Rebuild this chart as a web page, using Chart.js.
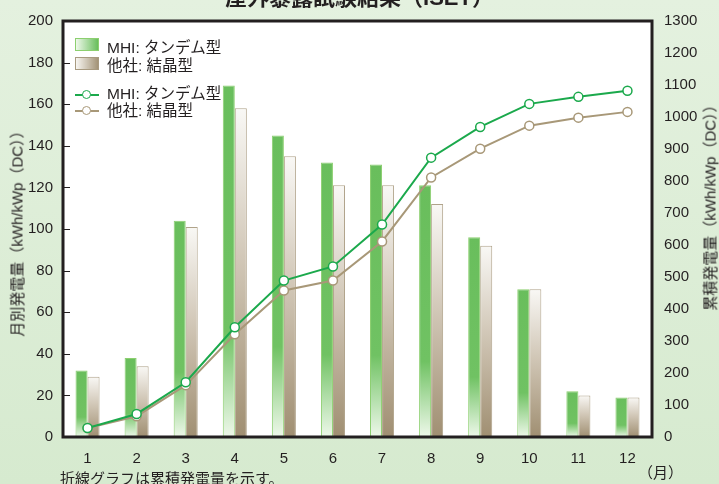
<!DOCTYPE html>
<html>
<head>
<meta charset="utf-8">
<script src="https://cdn.jsdelivr.net/npm/chart.js@4"></script>
<style>
  html, body { margin: 0; padding: 0; }
  body { width: 719px; height: 484px; overflow: hidden; position: relative;
         background: linear-gradient(#e4f1df, #d6eacf); font-family: "Liberation Sans", "Noto Sans CJK JP", sans-serif; color: #231f20; }
  #chart { position: absolute; left: 0; top: 0; }
  .txt { position: absolute; white-space: nowrap; font-family: "Liberation Sans", "Noto Sans CJK JP", sans-serif; }
  #title { left: 0; width: 719px; text-align: center; top: -21px; font-size: 22px; font-weight: bold; }
  .vtitle { font-size: 15px; transform: translate(-50%, -50%) rotate(-90deg); }
  #leftTitle { left: 16px; top: 230px; }
  #rightTitle { left: 709px; top: 204px; }
  #note { left: 60px; top: 467px; font-size: 15px; }
  #unit { left: 638px; top: 461px; font-size: 15px; }
  .leg { position: absolute; font-size: 15.5px; white-space: nowrap; }
  .box { position: absolute; width: 22px; height: 11px; }
  #box1 { left: 75px; top: 38px; background: linear-gradient(to right, #eef8ea, #69be5c); border: 1px solid #8ccf6f; }
  #box2 { left: 75px; top: 57px; background: linear-gradient(to right, #f8f6f2, #a39377); border: 1px solid #a89a80; }
  .lsym { position: absolute; width: 24px; height: 10px; }
  .lsym .ln { position: absolute; left: 0; right: 0; top: 4px; height: 2px; }
  .lsym .pt { position: absolute; left: 7px; top: 0; width: 7px; height: 7px; border-radius: 50%; background: #fff; }
</style>
</head>
<body>
<canvas id="chart" width="719" height="484"></canvas>
<div class="txt" id="title">屋外暴露試験結果（ISET）</div>
<div class="txt vtitle" id="leftTitle">月別発電量（kWh/kWp（DC））</div>
<div class="txt vtitle" id="rightTitle">累積発電量（kWh/kWp（DC））</div>
<div class="txt" id="note">折線グラフは累積発電量を示す。</div>
<div class="txt" id="unit">（月）</div>

<div class="box" id="box1"></div>
<div class="leg" style="left:107px; top:35px;">MHI: タンデム型</div>
<div class="box" id="box2"></div>
<div class="leg" style="left:107px; top:53px;">他社: 結晶型</div>

<div class="lsym" style="left:75px; top:90px;"><div class="ln" style="background:#1ba94c"></div><div class="pt" style="border:1.5px solid #1ba94c"></div></div>
<div class="leg" style="left:107px; top:81px;">MHI: タンデム型</div>
<div class="lsym" style="left:75px; top:106px;"><div class="ln" style="background:#a89878"></div><div class="pt" style="border:1.5px solid #a89878"></div></div>
<div class="leg" style="left:107px; top:98px;">他社: 結晶型</div>

<script>
// 月
const months = ['1', '2', '3', '4', '5', '6', '7', '8', '9', '10', '11', '12'];

// 月別発電量 (kWh/kWp)
const mhiMonthly = [32, 38, 104, 169, 145, 132, 131, 121, 96, 71, 22, 19];
const otherMonthly = [29, 34, 101, 158, 135, 121, 121, 112, 92, 71, 20, 19];

// 累積発電量 (kWh/kWp)
const mhiTotal = [28, 72, 171, 343, 489, 533, 664, 873, 969, 1041, 1063, 1082];
const otherTotal = [28, 65, 162, 321, 458, 489, 611, 811, 901, 973, 998, 1016];

const GREEN = '#1ba94c';
const BROWN = '#a89878';
const tickFont = { family: 'Liberation Sans', size: 15 };

// per-bar vertical gradient, from the bar top down to the zero line
function barGradient(stops) {
  return (context) => {
    const chart = context.chart;
    if (!chart.chartArea || context.raw == null) return stops[0][1];
    const y = chart.scales.y;
    const top = y.getPixelForValue(context.raw);
    const bottom = y.getPixelForValue(0);
    const g = chart.ctx.createLinearGradient(0, top, 0, bottom);
    stops.forEach(([p, c]) => g.addColorStop(p, c));
    return g;
  };
}

// white plot area, frame and inward ticks on the left axis
const framePlugin = {
  id: 'frame',
  beforeDraw(chart) {
    const { ctx, chartArea: a } = chart;
    ctx.save();
    ctx.fillStyle = '#ffffff';
    ctx.fillRect(a.left, a.top, a.right - a.left, a.bottom - a.top);
    ctx.restore();
  },
  afterDraw(chart) {
    const { ctx, chartArea: a } = chart;
    ctx.save();
    ctx.strokeStyle = '#231f20';
    ctx.lineWidth = 1;
    const y = chart.scales.y;
    y.ticks.forEach(t => {
      const py = Math.round(y.getPixelForValue(t.value)) + 0.5;
      ctx.beginPath();
      ctx.moveTo(a.left, py);
      ctx.lineTo(a.left + 7, py);
      ctx.stroke();
    });
    ctx.lineWidth = 3;
    ctx.strokeRect(a.left, a.top, a.right - a.left, a.bottom - a.top);
    ctx.restore();
  }
};

new Chart(document.getElementById('chart'), {
  type: 'bar',
  data: {
    labels: months,
    datasets: [
      {
        type: 'line',
        label: 'MHI: タンデム型',
        data: mhiTotal,
        yAxisID: 'y2',
        borderColor: GREEN,
        borderWidth: 2,
        pointRadius: 4.5,
        pointBackgroundColor: '#ffffff',
        pointBorderColor: GREEN,
        pointBorderWidth: 1.5,
        tension: 0,
        order: 0
      },
      {
        type: 'line',
        label: '他社: 結晶型',
        data: otherTotal,
        yAxisID: 'y2',
        borderColor: BROWN,
        borderWidth: 2,
        pointRadius: 4.5,
        pointBackgroundColor: '#ffffff',
        pointBorderColor: BROWN,
        pointBorderWidth: 1.5,
        tension: 0,
        order: 1
      },
      {
        label: 'MHI: タンデム型',
        data: mhiMonthly,
        yAxisID: 'y',
        backgroundColor: barGradient([[0, '#69be5c'], [0.7, '#70c263'], [1, '#eef8ea']]),
        borderColor: '#8ccf6f',
        borderWidth: 1,
        borderSkipped: 'bottom',
        barPercentage: 1,
        categoryPercentage: 0.49,
        order: 2
      },
      {
        label: '他社: 結晶型',
        data: otherMonthly,
        yAxisID: 'y',
        backgroundColor: barGradient([[0, '#f9f8f5'], [0.45, '#d2c8b8'], [1, '#a08f72']]),
        borderColor: '#b0a38a',
        borderWidth: 1,
        borderSkipped: 'bottom',
        barPercentage: 1,
        categoryPercentage: 0.49,
        order: 3
      }
    ]
  },
  options: {
    responsive: false,
    animation: false,
    layout: { padding: { top: 20, left: 0, right: 0, bottom: 0 } },
    plugins: { legend: { display: false }, tooltip: { enabled: false } },
    scales: {
      x: {
        grid: { display: false, drawTicks: false },
        border: { display: false },
        ticks: { color: '#231f20', font: tickFont, padding: 13 },
        afterFit: (s) => { s.height = 47; }
      },
      y: {
        position: 'left',
        min: 0,
        max: 200,
        grid: { display: false, drawTicks: false },
        border: { display: false },
        ticks: { stepSize: 20, color: '#231f20', font: tickFont, padding: 10 },
        afterFit: (s) => { s.width = 63; }
      },
      y2: {
        position: 'right',
        min: 0,
        max: 1300,
        grid: { display: false, drawTicks: false },
        border: { display: false },
        ticks: { stepSize: 100, color: '#231f20', font: tickFont, padding: 12, callback: (v) => String(v) },
        afterFit: (s) => { s.width = 67; }
      }
    }
  },
  plugins: [framePlugin]
});
</script>
</body>
</html>
